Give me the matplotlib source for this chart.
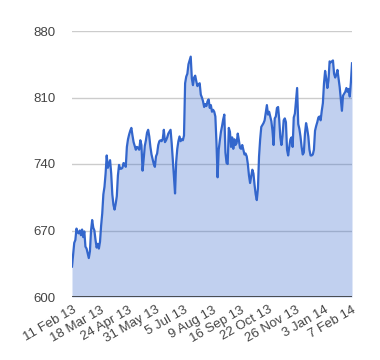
import numpy as np
import matplotlib
matplotlib.use("Agg")
from matplotlib import pyplot as plt

# closing values, one per trading day
values = [
    632, 645, 657, 660, 672, 668, 667, 670, 665, 671,
    663, 669, 653, 651, 646, 641, 648, 670, 681, 673,
    670, 660, 652, 656, 651, 658, 675, 688, 708, 716,
    730, 749, 736, 740, 744, 730, 708, 697, 692, 698,
    706, 728, 739, 735, 735, 736, 741, 740, 737, 758,
    766, 771, 775, 778, 770, 763, 759, 755, 758, 757,
    755, 765, 760, 733, 745, 759, 765, 773, 776, 769,
    758, 750, 745, 740, 737, 748, 751, 760, 764, 765,
    764, 766, 776, 763, 765, 768, 772, 774, 776, 762,
    745, 727, 709, 742, 756, 764, 769, 764, 766, 765,
    770, 825, 832, 835, 845, 849, 853, 830, 823, 831,
    833, 827, 822, 824, 825, 813, 810, 806, 800, 803,
    801, 806, 808, 799, 802, 795, 797, 795, 790, 762,
    726, 755, 765, 774, 780, 787, 792, 752, 741, 740,
    778, 774, 758, 768, 756, 766, 760, 762, 772, 765,
    757, 756, 760, 755, 750, 751, 748, 740, 728, 720,
    727, 734, 730, 718, 708, 702, 714, 748, 766, 779,
    781, 783, 786, 794, 802, 792, 795, 790, 785, 775,
    760, 788, 790, 799, 800, 787, 768, 760, 770, 786,
    788, 784, 755, 749, 758, 766, 768, 758, 789, 793,
    807, 820, 782, 777, 769, 758, 750, 752, 772, 783,
    777, 769, 755, 749, 749, 750, 755, 775, 780, 784,
    789, 790, 786, 796, 804, 825, 838, 830, 820, 828,
    848, 847, 848, 849, 835, 831, 834, 839, 830, 821,
    808, 796, 812, 814, 816, 820, 816, 819, 811, 826,
    846,
]
date_labels = ["11 Feb 13", "18 Mar 13", "24 Apr 13", "31 May 13", "5 Jul 13",
               "9 Aug 13", "16 Sep 13", "22 Oct 13", "26 Nov 13", "3 Jan 14",
               "7 Feb 14"]
y_ticks = [600, 670, 740, 810, 880]

plt.rcParams['font.family'] = ['Liberation Sans', 'DejaVu Sans']

x = np.arange(len(values))
line_color = '#3366cc'

fig = plt.figure(figsize=(3.8, 3.6), dpi=100)
ax = fig.add_axes([72 / 380, 1 - 297 / 360, 280 / 380, 266 / 360])

for t in y_ticks[1:]:
    ax.axhline(t, color='#cccccc', lw=1, zorder=1)
ax.fill_between(x, 600, values, color=line_color, alpha=0.3, lw=0, zorder=2)
ax.plot(x, values, color=line_color, lw=1.6, zorder=3, solid_joinstyle='round')
ax.axhline(600, color='#333333', lw=1.2, zorder=4)

ax.set_xlim(0, len(values) - 1)
ax.set_ylim(600, 880)
ax.set_yticks(y_ticks)
ax.set_yticklabels([str(t) for t in y_ticks])
ax.set_xticks(range(0, len(values), 25))
ax.set_xticklabels(date_labels, rotation=30, ha='right', va='top',
                   rotation_mode='anchor')

ax.tick_params(axis='y', length=0, pad=12, labelsize=9.5, labelcolor='#444444')
ax.tick_params(axis='x', length=0, pad=5, labelsize=9.5, labelcolor='#444444')
for s in ax.spines.values():
    s.set_visible(False)

fig.savefig('out.png', dpi=100)
